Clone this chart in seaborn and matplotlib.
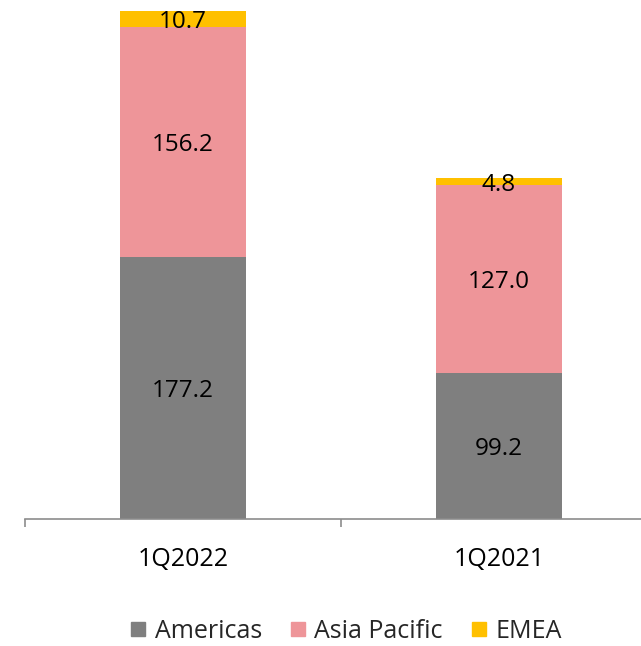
import matplotlib
matplotlib.use("Agg")
import matplotlib.pyplot as plt
import seaborn as sns
import pandas as pd
from matplotlib.lines import Line2D

categories = ["1Q2022", "1Q2021"]
americas = [177.2, 99.2]
asia_pacific = [156.2, 127.0]
emea = [10.7, 4.8]
series_names = ["Americas", "Asia Pacific", "EMEA"]
colors = ["#7F7F7F", "#EE9599", "#FFC000"]

sns.set_theme(style="white")
plt.rcParams['font.family'] = ['Open Sans', 'DejaVu Sans']

df = pd.DataFrame({
    "cat": categories,
    "Americas": americas,
    "Asia Pacific": asia_pacific,
    "EMEA": emea,
})
df["c1"] = df["Americas"]
df["c2"] = df["Americas"] + df["Asia Pacific"]
df["c3"] = df["c2"] + df["EMEA"]

W, H = 641, 646
fig = plt.figure(figsize=(W / 100, H / 100), dpi=100)
ax = fig.add_axes([25 / W, 1 - 519 / H, 632 / W, 519 / H])

for col, c in zip(["c3", "c2", "c1"], colors[::-1]):
    sns.barplot(data=df, x="cat", y=col, color=c, width=0.4, ax=ax,
                saturation=1, edgecolor="none", linewidth=0)

# labels
for i in range(len(categories)):
    segs = [(0, americas[i]), (americas[i], asia_pacific[i]),
            (americas[i] + asia_pacific[i], emea[i])]
    for b, h in segs:
        ax.text(i, b + h / 2, f"{h:.1f}", ha="center", va="center_baseline",
                fontsize=17.5, color="black")

ax.set_ylim(0, 351.6)
ax.set_xlim(-0.5, 1.5)
ax.set_xlabel("")
ax.set_ylabel("")
ax.set_yticks([])
for s in ["top", "right", "left"]:
    ax.spines[s].set_visible(False)
ax.spines["bottom"].set_color("#8C8C8C")
ax.spines["bottom"].set_linewidth(1.2)
ax.set_xticks([0, 1])
ax.set_xticklabels(categories, fontsize=18, color="black")
ax.set_xticks([-0.5, 0.5, 1.5], minor=True)
ax.tick_params(axis="x", which="major", length=0, pad=20)
ax.tick_params(axis="x", which="minor", length=6, width=1.2, color="#8C8C8C",
               direction="out", bottom=True)

handles = [Line2D([], [], marker="s", linestyle="none", markersize=10,
                  markerfacecolor=c, markeredgecolor=c) for c in colors]
fig.legend(handles, series_names, loc="center", ncol=3,
           bbox_to_anchor=(345 / W, 1 - 631 / H), frameon=False,
           fontsize=18, handletextpad=0.25, columnspacing=1.05,
           handlelength=0.8)

fig.savefig("out.png", dpi=100)
